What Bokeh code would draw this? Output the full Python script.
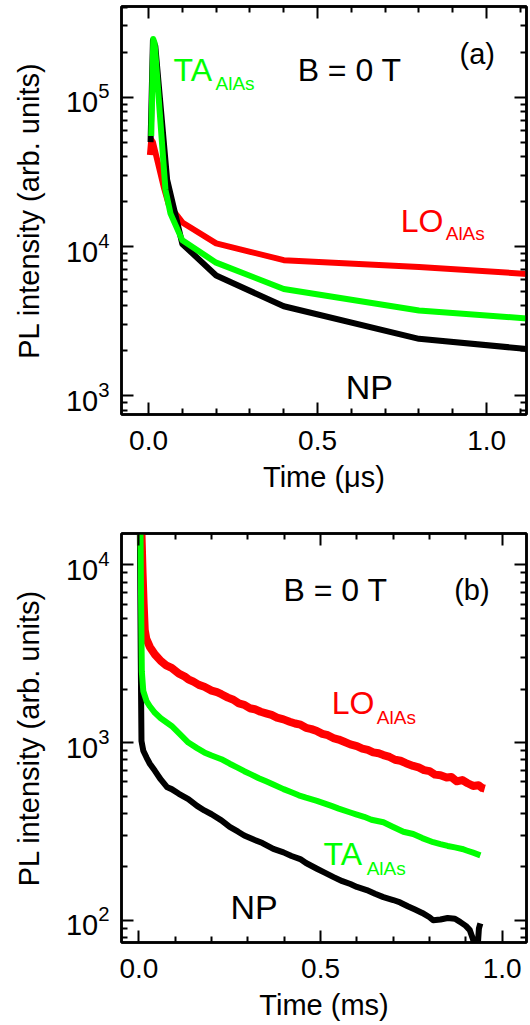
from bokeh.plotting import figure
from bokeh.layouts import column
from bokeh.models import (FixedTicker, LogAxis, LinearAxis, Label, Range1d,
                          PrintfTickFormatter, CustomLabelingPolicy)
from bokeh.embed import file_html
from bokeh.resources import INLINE

FONT = "Liberation Sans"
RED = "#ff0000"
GREEN = "#00ff00"
BLACK = "#000000"

# ---------------- panel (a) data: time in microseconds ----------------
a_np_t = [0.006, 0.013, 0.020, 0.055, 0.10, 0.20, 0.40, 0.80, 1.12]
a_np_v = [5.0e4, 2.4e5, 2.2e5, 2.8e4, 1.04e4, 6.4e3, 3.98e3, 2.41e3, 2.06e3]
a_ta_t = [0.008, 0.014, 0.018, 0.05, 0.065, 0.10, 0.20, 0.40, 0.80, 1.12]
a_ta_v = [5.5e4, 2.45e5, 2.3e5, 2.4e4, 1.66e4, 1.1e4, 7.8e3, 5.2e3, 3.73e3, 3.3e3]
a_lo_t = [0.004, 0.008, 0.013, 0.045, 0.06, 0.10, 0.20, 0.40, 0.80, 1.12]
a_lo_v = [4.1e4, 5.2e4, 5.0e4, 2.5e4, 1.9e4, 1.45e4, 1.05e4, 8.1e3, 7.3e3, 6.55e3]

# ---------------- panel (b) data: time in milliseconds ----------------
b_lo_t = [0.004, 0.010, 0.013, 0.016, 0.020, 0.030, 0.044, 0.060, 0.075, 0.090,
          0.110, 0.125, 0.136, 0.150, 0.165, 0.180, 0.200, 0.215, 0.227, 0.245,
          0.260, 0.275, 0.290, 0.305, 0.319, 0.335, 0.350, 0.365, 0.380, 0.398,
          0.415, 0.430, 0.445, 0.460, 0.475, 0.490, 0.505, 0.520, 0.535, 0.550,
          0.565, 0.582, 0.600, 0.615, 0.630, 0.645, 0.660, 0.673, 0.690, 0.705,
          0.720, 0.735, 0.755, 0.770, 0.785, 0.800, 0.815, 0.830, 0.847, 0.860,
          0.875, 0.890, 0.905, 0.920, 0.935, 0.945, 0.952]
b_lo_v = [2.5e4, 9.0e3, 6.0e3, 4.3e3, 3.85e3, 3.45e3, 3.13e3, 2.88e3, 2.72e3, 2.63e3,
          2.44e3, 2.36e3, 2.27e3, 2.20e3, 2.11e3, 2.06e3, 1.96e3, 1.92e3, 1.87e3, 1.79e3,
          1.74e3, 1.66e3, 1.63e3, 1.56e3, 1.54e3, 1.49e3, 1.46e3, 1.43e3, 1.38e3, 1.35e3,
          1.31e3, 1.28e3, 1.26e3, 1.21e3, 1.19e3, 1.16e3, 1.12e3, 1.10e3, 1.06e3, 1.04e3,
          1.01e3, 977, 955, 925, 910, 880, 870, 850, 830, 800,
          790, 765, 739, 725, 700, 690, 660, 655, 636, 640,
          605, 615, 590, 570, 575, 555, 550]

b_ta_t = [0.003, 0.006, 0.008, 0.012, 0.021, 0.030, 0.044, 0.060, 0.090, 0.110,
          0.136, 0.160, 0.180, 0.200, 0.227, 0.250, 0.270, 0.290, 0.307, 0.330,
          0.350, 0.370, 0.398, 0.420, 0.440, 0.460, 0.490, 0.510, 0.530, 0.550,
          0.582, 0.600, 0.620, 0.640, 0.673, 0.700, 0.728, 0.755, 0.780, 0.810,
          0.830, 0.850, 0.870, 0.890, 0.902, 0.920, 0.940]
b_ta_v = [3.0e4, 6.0e3, 2.5e3, 1.95e3, 1.71e3, 1.60e3, 1.47e3, 1.37e3, 1.24e3, 1.13e3,
          1.0e3, 930, 880, 845, 806, 760, 725, 690, 664, 630,
          605, 580, 547, 525, 505, 490, 470, 455, 440, 425,
          404, 393, 382, 368, 356, 335, 315, 306, 290, 275,
          268, 262, 257, 252, 247, 240, 232]

b_np_t = [0.001, 0.003, 0.005, 0.007, 0.012, 0.021, 0.030, 0.044, 0.060, 0.078,
          0.090, 0.110, 0.136, 0.160, 0.180, 0.200, 0.227, 0.250, 0.273, 0.290,
          0.319, 0.340, 0.353, 0.370, 0.398, 0.420, 0.444, 0.460, 0.490, 0.510,
          0.536, 0.560, 0.582, 0.600, 0.627, 0.650, 0.673, 0.700, 0.719, 0.740,
          0.760, 0.780, 0.800, 0.810, 0.830, 0.850, 0.870, 0.884, 0.900, 0.911,
          0.920, 0.925, 0.932, 0.936, 0.940]
b_np_v = [3.0e4, 1.2e4, 3.0e3, 1.02e3, 900, 823, 760, 693, 620, 560,
          547, 515, 481, 440, 415, 395, 365, 335, 315, 300,
          283, 272, 263, 252, 241, 230, 221, 210, 195, 186,
          175, 166, 160, 154, 148, 141, 135, 130, 126, 120,
          115, 110, 104, 100, 101, 103, 102, 98, 93, 88,
          78, 65, 68, 90, 96]

# ticks
a_xticks = [0.0, 0.5, 1.0]
a_xminor = [0.1, 0.2, 0.3, 0.4, 0.6, 0.7, 0.8, 0.9, 1.1]
a_yticks = [1e3, 1e4, 1e5]
a_yminor = [800, 900, 2e3, 3e3, 4e3, 5e3, 6e3, 7e3, 8e3, 9e3,
            2e4, 3e4, 4e4, 5e4, 6e4, 7e4, 8e4, 9e4, 2e5, 3e5, 4e5]
b_xticks = [0.0, 0.5, 1.0]
b_xminor = [0.1, 0.2, 0.3, 0.4, 0.6, 0.7, 0.8, 0.9]
b_yticks = [1e2, 1e3, 1e4]
b_yminor = [80, 90, 200, 300, 400, 500, 600, 700, 800, 900,
            2e3, 3e3, 4e3, 5e3, 6e3, 7e3, 8e3, 9e3]


def tick_style(ax):
    ax.axis_line_width = 2.5
    ax.major_tick_line_width = 2
    ax.minor_tick_line_width = 2
    ax.major_tick_in = 12
    ax.major_tick_out = 0
    ax.minor_tick_in = 6
    ax.minor_tick_out = 0


def make_panel(height, xr, yr, xt, xm, yt, ym, xlabel, top_border, bottom_border):
    p = figure(width=530, height=height, y_axis_type="log",
               x_range=Range1d(*xr), y_range=Range1d(*yr),
               output_backend="svg", toolbar_location=None,
               min_border_left=121, min_border_right=4,
               min_border_top=top_border, min_border_bottom=bottom_border)
    p.xgrid.visible = False
    p.ygrid.visible = False
    p.outline_line_color = "black"
    p.outline_line_width = 2.5
    p.outline_line_alpha = 1.0
    p.background_fill_color = "white"
    p.border_fill_color = "white"

    xa = p.xaxis[0]
    xa.ticker = FixedTicker(ticks=xt, minor_ticks=xm)
    xa.formatter = PrintfTickFormatter(format="%.1f")
    ya = p.yaxis[0]
    ya.ticker = FixedTicker(ticks=yt, minor_ticks=ym)
    for ax in (xa, ya):
        tick_style(ax)
        ax.major_label_text_font = FONT
        ax.axis_label_text_font = FONT
        ax.axis_label_text_font_style = "normal"
        ax.major_label_text_color = "black"
        ax.axis_label_text_color = "black"
    xa.major_label_text_font_size = "28px"
    xa.axis_label_text_font_size = "29px"
    xa.major_label_standoff = 16
    xa.axis_label_standoff = 8
    xa.axis_label = xlabel
    ya.major_label_text_font_size = "29px"
    ya.axis_label_text_font_size = "29px"
    ya.major_label_standoff = 12
    ya.axis_label_standoff = 18
    ya.axis_label = "PL intensity (arb. units)"

    top = LinearAxis(ticker=FixedTicker(ticks=xt, minor_ticks=xm))
    right = LogAxis(ticker=FixedTicker(ticks=yt, minor_ticks=ym))
    for ax in (top, right):
        tick_style(ax)
        ax.major_label_text_font_size = "1px"
        ax.major_label_standoff = 0
        ax.major_label_policy = CustomLabelingPolicy(code="return []")
    p.add_layout(top, "above")
    p.add_layout(right, "right")
    return p


def add_text(p, x, y, text, color, size):
    p.add_layout(Label(x=x, y=y, text=text, text_color=color, text_font=FONT,
                       text_font_size=size, text_baseline="alphabetic",
                       text_align="left"))


pa = make_panel(500, (-0.08, 1.118), (750, 4.05e5), a_xticks, a_xminor,
                a_yticks, a_yminor, "Time (μs)", 6, 86)
pa.line(a_lo_t, a_lo_v, line_color=RED, line_width=6, line_join="round")
pa.line(a_np_t, a_np_v, line_color=BLACK, line_width=6, line_join="round")
pa.line(a_ta_t, a_ta_v, line_color=GREEN, line_width=6, line_join="round")
add_text(pa, 0.074, 1.51e5, "TA", GREEN, "32px")
add_text(pa, 0.198, 1.24e5, "AlAs", GREEN, "19px")
add_text(pa, 0.441, 1.53e5, "B = 0 T", BLACK, "32px")
add_text(pa, 0.92, 1.95e5, "(a)", BLACK, "29px")
add_text(pa, 0.746, 1.49e4, "LO", RED, "32px")
add_text(pa, 0.879, 1.22e4, "AlAs", RED, "19px")
add_text(pa, 0.583, 1.15e3, "NP", BLACK, "34px")

pb = make_panel(525, (-0.048, 1.067), (75, 1.5e4), b_xticks, b_xminor,
                b_yticks, b_yminor, "Time (ms)", 33, 83)
pb.line(b_np_t, b_np_v, line_color=BLACK, line_width=6, line_join="round")
pb.line(b_lo_t, b_lo_v, line_color=RED, line_width=8, line_join="round")
pb.line(b_ta_t, b_ta_v, line_color=GREEN, line_width=6, line_join="round")
add_text(pb, 0.398, 7.24e3, "B = 0 T", BLACK, "32px")
add_text(pb, 0.868, 7.24e3, "(b)", BLACK, "29px")
add_text(pb, 0.531, 1.67e3, "LO", RED, "32px")
add_text(pb, 0.655, 1.38e3, "AlAs", RED, "19px")
add_text(pb, 0.508, 236, "TA", GREEN, "32px")
add_text(pb, 0.627, 195, "AlAs", GREEN, "19px")
add_text(pb, 0.252, 118.6, "NP", BLACK, "34px")

layout = column(pa, pb)
open("out.html", "w").write(file_html(layout, INLINE))
